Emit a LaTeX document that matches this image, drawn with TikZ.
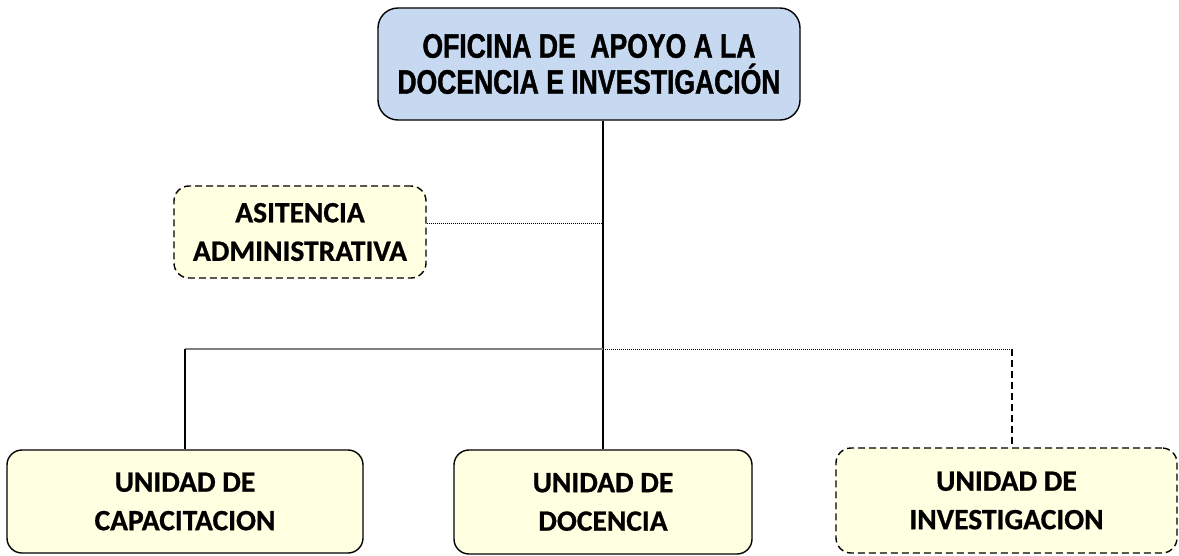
\documentclass[tikz,border=0pt]{standalone}
\usepackage{fontspec}
\newfontfamily\narrowfont[FakeStretch=0.78,FakeBold=1.2]{Liberation Sans}
\newfontfamily\calfont[FakeBold=0.8]{Carlito}
\definecolor{topblue}{RGB}{198,217,241}
\definecolor{paleyel}{RGB}{255,255,225}
\definecolor{busgray}{RGB}{128,128,128}
\begin{document}
\begin{tikzpicture}[x=1pt,y=-1pt,
  topbox/.style={draw=black,line width=1.4pt,rounded corners=20pt,fill=topblue,
    minimum width=422pt,minimum height=112pt,align=center,inner sep=0pt,
    font=\narrowfont\bfseries\fontsize{34}{36}\selectfont},
  unitbox/.style={draw=black,line width=1.4pt,rounded corners=15pt,fill=paleyel,
    align=center,inner sep=0pt,font=\calfont\bfseries\fontsize{29.5}{38.5}\selectfont},
  dashbox/.style={unitbox,dashed,dash pattern=on 7pt off 4pt},
  conn/.style={draw=black,line width=1.2pt},
  dotconn/.style={draw=black,line width=0.9pt,dash pattern=on 1pt off 1pt},
  busline/.style={draw=busgray,line width=1.4pt}
]
\useasboundingbox (0,0) rectangle (1179,555);
\node[topbox] (top) at (589,64) {OFICINA DE \ APOYO A LA\\DOCENCIA E INVESTIGACIÓN};
\node[dashbox,minimum width=252pt,minimum height=92pt] (asist) at (300,232) {ASITENCIA\\ADMINISTRATIVA};
\node[unitbox,minimum width=356pt,minimum height=103pt] (cap) at (185,501.5) {UNIDAD DE\\CAPACITACION};
\node[unitbox,minimum width=298pt,minimum height=104pt] (doc) at (603,502) {UNIDAD DE\\DOCENCIA};
\node[dashbox,minimum width=341pt,minimum height=105pt] (inv) at (1006.5,500.5) {UNIDAD DE\\INVESTIGACION};
\coordinate (aj) at (603,223);
\coordinate (bus) at (603,349);
\coordinate (ij) at (1012,349);
% trunk
\draw[conn] (top.south -| doc.north) -- (doc.north);
% assistance link
\draw[dotconn] (asist.east |- aj) -- (aj);
% bus
\draw[busline] (cap.north |- bus) -- (bus);
\draw[conn] (cap.north |- bus) -- (cap.north);
\draw[dotconn] (bus) -- (ij);
\draw[conn,dash pattern=on 7pt off 4pt] (ij) -- (ij |- inv.north);
\end{tikzpicture}
\end{document}
